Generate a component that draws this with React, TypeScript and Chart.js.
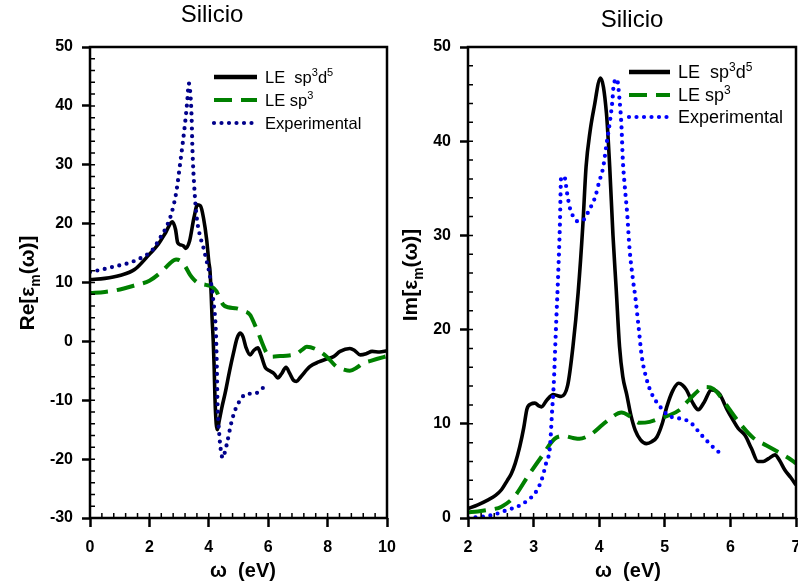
import React, { useEffect, useRef } from "react";
import { Chart, registerables } from "chart.js";

Chart.register(...registerables);

const FONT = '"Liberation Sans", Arial, Helvetica, sans-serif';

// ---------------- Left panel: Re[eps_m(omega)] ----------------
const reSp3d5X = [0, 0.5, 1.0, 1.5, 2.0, 2.3, 2.55, 2.77, 2.88, 2.95, 3.05, 3.15, 3.22, 3.35, 3.5, 3.62, 3.72, 3.82, 3.93, 4.0, 4.04, 4.08, 4.11, 4.15, 4.18, 4.21, 4.25, 4.29, 4.35, 4.45, 4.55, 4.7, 4.83, 4.95, 5.05, 5.15, 5.25, 5.39, 5.52, 5.65, 5.75, 5.9, 6.05, 6.2, 6.32, 6.45, 6.6, 6.72, 6.85, 6.95, 7.1, 7.4, 7.7, 7.97, 8.2, 8.42, 8.75, 8.9, 9.1, 9.3, 9.5, 9.75, 10];
const reSp3d5Y = [10.5, 10.7, 11.2, 12.2, 14.8, 16.5, 18.5, 20.3, 19.0, 16.8, 16.4, 16.2, 15.8, 17.0, 21.0, 23.2, 23.0, 21.0, 17.2, 13.5, 12.0, 8.0, 4.0, 0.0, -4.3, -10.0, -14.0, -15.0, -13.5, -11.0, -8.8, -5.0, -2.0, 0.5, 1.4, 0.8, -1.0, -2.3, -1.5, -1.1, -2.2, -4.4, -5.0, -5.5, -6.2, -5.5, -4.4, -5.4, -6.6, -6.8, -6.0, -4.3, -3.5, -3.0, -2.6, -1.7, -1.2, -1.5, -2.3, -2.1, -1.7, -1.8, -1.6];

const reSp3X = [0, 0.5, 0.9, 1.5, 2.0, 2.4, 2.7, 2.9, 3.05, 3.2, 3.37, 3.5, 3.65, 3.9, 4.1, 4.26, 4.38, 4.49, 4.65, 4.94, 5.15, 5.39, 5.55, 5.67, 5.8, 5.95, 6.1, 6.4, 6.7, 6.96, 7.15, 7.3, 7.63, 7.97, 8.3, 8.55, 8.75, 9.0, 9.2, 9.45, 9.65, 10];
const reSp3Y = [8.2, 8.4, 8.7, 9.5, 10.3, 11.8, 13.3, 13.9, 13.7, 12.8, 11.3, 10.5, 9.9, 9.6, 9.3, 8.5, 7.2, 6.2, 5.8, 5.6, 5.2, 4.5, 2.8, 1.4, -0.3, -2.0, -2.6, -2.5, -2.4, -2.1, -1.4, -0.9, -1.4, -2.6, -4.3, -4.8, -5.0, -4.4, -3.7, -3.3, -3.0, -2.5];

const reExpX = [0, 0.4, 0.8, 1.3, 1.8, 2.1, 2.35, 2.55, 2.73, 2.9, 3.05, 3.2, 3.27, 3.33, 3.38, 3.42, 3.45, 3.51, 3.59, 3.7, 3.81, 3.9, 4.03, 4.15, 4.24, 4.27, 4.29, 4.35, 4.42, 4.47, 4.52, 4.6, 4.77, 4.9, 5.03, 5.27, 5.5, 5.67, 5.9];
const reExpY = [11.8, 12.2, 12.7, 13.3, 14.4, 15.5, 17.5, 19.2, 21.5, 25.2, 30.8, 37.0, 40.5, 43.8, 42.0, 38.2, 32.5, 26.3, 21.2, 18.0, 16.1, 14.2, 11.3, 7.0, 1.4, -4.3, -9.9, -15.6, -19.0, -19.8, -19.2, -17.6, -13.6, -11.5, -10.2, -8.9, -8.9, -8.6, -7.5];

// ---------------- Right panel: Im[eps_m(omega)] ----------------
const imSp3d5X = [2.0, 2.15, 2.3, 2.42, 2.51, 2.6, 2.66, 2.72, 2.79, 2.85, 2.9, 2.96, 3.02, 3.08, 3.12, 3.2, 3.3, 3.36, 3.42, 3.52, 3.6, 3.68, 3.75, 3.8, 3.86, 3.92, 4.02, 4.11, 4.16, 4.21, 4.26, 4.31, 4.36, 4.42, 4.48, 4.55, 4.63, 4.72, 4.8, 4.88, 4.96, 5.03, 5.12, 5.21, 5.27, 5.33, 5.42, 5.51, 5.6, 5.71, 5.78, 5.84, 5.95, 6.04, 6.12, 6.22, 6.32, 6.42, 6.5, 6.58, 6.68, 6.75, 6.83, 6.92, 7.0];
const imSp3d5Y = [1.0, 1.4, 1.9, 2.4, 3.0, 4.0, 4.7, 5.8, 7.6, 9.6, 11.6, 12.1, 12.2, 11.9, 11.8, 12.5, 13.1, 13.0, 12.9, 14.1, 18.2, 24.0, 31.0, 37.3, 41.0, 43.5, 46.7, 43.0, 37.3, 30.0, 24.2, 18.2, 15.0, 13.1, 11.0, 9.3, 8.3, 7.9, 8.1, 8.6, 10.0, 11.8, 13.5, 14.3, 14.1, 13.6, 12.3, 11.5, 12.3, 13.6, 13.5, 13.1, 11.5, 10.4, 9.5, 8.8, 7.4, 6.0, 6.0, 6.3, 6.7, 6.1, 5.1, 4.3, 3.5];

const imSp3X = [2.0, 2.15, 2.3, 2.51, 2.71, 2.91, 3.12, 3.32, 3.47, 3.6, 3.7, 3.8, 3.9, 4.05, 4.19, 4.34, 4.47, 4.62, 4.77, 4.9, 5.03, 5.23, 5.35, 5.46, 5.61, 5.74, 5.87, 5.99, 6.15, 6.35, 6.55, 6.73, 6.88, 7.0];
const imSp3Y = [0.6, 0.7, 0.85, 1.2, 2.3, 4.4, 6.5, 8.4, 8.7, 8.5, 8.4, 8.6, 9.0, 9.9, 10.7, 11.2, 10.8, 10.1, 10.2, 10.5, 10.8, 11.5, 12.4, 13.2, 13.9, 13.7, 12.7, 11.5, 10.0, 8.5, 7.7, 7.0, 6.4, 5.8];

const imExpX = [2.0, 2.1, 2.36, 2.58, 2.81, 2.93, 3.02, 3.12, 3.19, 3.25, 3.28, 3.31, 3.33, 3.35, 3.37, 3.4, 3.42, 3.47, 3.51, 3.55, 3.59, 3.67, 3.77, 3.84, 3.94, 4.0, 4.06, 4.11, 4.16, 4.2, 4.22, 4.27, 4.31, 4.34, 4.36, 4.39, 4.43, 4.46, 4.52, 4.55, 4.6, 4.65, 4.72, 4.8, 4.93, 5.05, 5.26, 5.38, 5.56, 5.77, 5.88];
const imExpY = [0.0, 0.07, 0.3, 0.8, 1.4, 2.0, 2.6, 4.0, 5.8, 7.6, 11.1, 14.6, 18.2, 21.7, 25.0, 30.9, 36.2, 36.2, 34.5, 33.0, 32.2, 31.5, 31.7, 32.6, 34.1, 35.7, 37.2, 39.6, 41.9, 44.2, 45.9, 46.6, 44.4, 41.5, 38.0, 35.2, 32.0, 28.8, 25.0, 23.5, 20.3, 17.1, 14.8, 13.2, 11.8, 10.9, 10.5, 10.2, 8.8, 7.3, 6.7];

// axis ranges / ticks
const reXRange = [0, 10, 2, 0.4]; // min, max, major step, minor step
const reYRange = [-30, 50, 10, 2];
const imXRange = [2, 7, 1, 0.2];
const imYRange = [0, 50, 10, 2];

// texts
type Part = { t: string; s?: "sup" | "sub" };
const panelTitle = "Silicio";
const xTitle = "ω  (eV)";
const reYTitle: Part[] = [{ t: "Re[ε" }, { t: "m", s: "sub" }, { t: "(ω)]" }];
const imYTitle: Part[] = [{ t: "Im[ε" }, { t: "m", s: "sub" }, { t: "(ω)]" }];
const legendLabels: Part[][] = [
  [{ t: "LE  sp" }, { t: "3", s: "sup" }, { t: "d" }, { t: "5", s: "sup" }],
  [{ t: "LE sp" }, { t: "3", s: "sup" }],
  [{ t: "Experimental" }],
];

const BLACK = "#000000";
const GREEN = "#008000";

type Style = { color: string; width: number; dash: number[]; cap: CanvasLineCap };
const solidStyle: Style = { color: BLACK, width: 3.6, dash: [], cap: "butt" };
const dashStyle: Style = { color: GREEN, width: 4, dash: [18, 9], cap: "butt" };

function richWidth(ctx: CanvasRenderingContext2D, parts: Part[], size: number, bold: boolean) {
  let w = 0;
  for (const p of parts) {
    const fs = p.s ? Math.round(size * 0.65) : size;
    ctx.font = `${bold ? "bold " : ""}${fs}px ${FONT}`;
    w += ctx.measureText(p.t).width;
  }
  return w;
}

function drawRich(ctx: CanvasRenderingContext2D, parts: Part[], x: number, y: number, size: number, bold: boolean) {
  let cx = x;
  ctx.textBaseline = "alphabetic";
  ctx.textAlign = "left";
  for (const p of parts) {
    const fs = p.s ? Math.round(size * 0.65) : size;
    ctx.font = `${bold ? "bold " : ""}${fs}px ${FONT}`;
    const dy = p.s === "sup" ? -size * 0.42 : p.s === "sub" ? size * 0.28 : 0;
    ctx.fillText(p.t, cx, y + dy);
    cx += ctx.measureText(p.t).width;
  }
}

interface PanelSpec {
  canvasW: number;
  viewW: number;
  pageLeft: number;
  yAxisW: number;
  padRight: number;
  xr: number[];
  yr: number[];
  series: { xs: number[]; ys: number[]; style: Style }[];
  yTitle: Part[];
  yTitleX: number;
  yTitleY: number;
  xTitleX: number;
  titleX: number;
  titleY: number;
  legX1: number;
  legX2: number;
  legTextX: number;
  legYs: number[];
  legFont: number;
}

function makeDecor(p: PanelSpec) {
  return {
    id: "decor",
    afterDraw(chart: any) {
      const ctx: CanvasRenderingContext2D = chart.ctx;
      const a = chart.chartArea;
      const xs = chart.scales.x;
      const ys = chart.scales.y;
      ctx.save();
      ctx.strokeStyle = BLACK;
      ctx.fillStyle = BLACK;
      // minor ticks (inside)
      ctx.lineWidth = 1.5;
      ctx.beginPath();
      const nx = Math.round((p.xr[1] - p.xr[0]) / p.xr[3]);
      for (let i = 1; i < nx; i++) {
        const px = xs.getPixelForValue(p.xr[0] + i * p.xr[3]);
        ctx.moveTo(px, a.bottom);
        ctx.lineTo(px, a.bottom - 5);
      }
      const ny = Math.round((p.yr[1] - p.yr[0]) / p.yr[3]);
      for (let i = 1; i < ny; i++) {
        const py = ys.getPixelForValue(p.yr[0] + i * p.yr[3]);
        ctx.moveTo(a.left, py);
        ctx.lineTo(a.left + 5, py);
      }
      ctx.stroke();
      // frame
      ctx.lineWidth = 2.5;
      ctx.strokeRect(a.left, a.top, a.right - a.left, a.bottom - a.top);
      // title
      ctx.font = `24px ${FONT}`;
      ctx.textAlign = "center";
      ctx.textBaseline = "middle";
      ctx.fillText(panelTitle, p.titleX, p.titleY);
      // x title
      ctx.font = `bold 20px ${FONT}`;
      ctx.fillText(xTitle, p.xTitleX, 571);
      // y title
      const w = richWidth(ctx, p.yTitle, 21, true);
      ctx.save();
      ctx.translate(p.yTitleX, p.yTitleY);
      ctx.rotate(-Math.PI / 2);
      drawRich(ctx, p.yTitle, -w / 2, 0, 21, true);
      ctx.restore();
      // legend
      const styles: Style[] = [p.series[2].style, p.series[1].style, p.series[0].style];
      for (let i = 0; i < 3; i++) {
        const s = styles[i];
        const y = p.legYs[i];
        ctx.save();
        ctx.strokeStyle = s.color;
        ctx.lineWidth = i === 0 ? 4.5 : s.width;
        ctx.lineCap = s.cap;
        ctx.setLineDash(s.dash);
        ctx.beginPath();
        ctx.moveTo(p.legX1, y);
        ctx.lineTo(p.legX2, y);
        ctx.stroke();
        ctx.restore();
        ctx.fillStyle = BLACK;
        drawRich(ctx, legendLabels[i], p.legTextX, y + p.legFont * 0.36, p.legFont, false);
      }
      ctx.restore();
    },
  };
}

function Panel({ spec }: { spec: PanelSpec }) {
  const ref = useRef<HTMLCanvasElement | null>(null);
  useEffect(() => {
    const canvas = ref.current!;
    const datasets = spec.series.map((s) => ({
      data: s.xs.map((x, i) => ({ x, y: s.ys[i] })),
      borderColor: s.style.color,
      backgroundColor: s.style.color,
      borderWidth: s.style.width,
      borderDash: s.style.dash,
      borderCapStyle: s.style.cap,
      borderJoinStyle: "round" as const,
      pointRadius: 0,
      fill: false,
      cubicInterpolationMode: "monotone" as const,
    }));
    const tickFont = { family: FONT, size: 16, weight: "bold" as const };
    const chart = new Chart(canvas, {
      type: "line",
      data: { datasets },
      options: {
        animation: false,
        responsive: false,
        devicePixelRatio: 1,
        layout: { padding: { left: 0, right: spec.padRight, top: 47, bottom: 0 } },
        plugins: { legend: { display: false }, tooltip: { enabled: false }, title: { display: false } },
        scales: {
          x: {
            type: "linear",
            min: spec.xr[0],
            max: spec.xr[1],
            afterFit: (sc: any) => {
              sc.height = 68;
              sc.paddingLeft = 0;
              sc.paddingRight = 0;
            },
            ticks: { stepSize: spec.xr[2], color: BLACK, font: tickFont, padding: 11, maxRotation: 0 },
            grid: { display: true, drawOnChartArea: false, drawTicks: true, tickLength: 9, tickWidth: 2.5, tickColor: BLACK },
            border: { display: false },
          },
          y: {
            type: "linear",
            min: spec.yr[0],
            max: spec.yr[1],
            afterFit: (sc: any) => {
              sc.width = spec.yAxisW;
              sc.paddingTop = 0;
              sc.paddingBottom = 0;
            },
            ticks: { stepSize: spec.yr[2], color: BLACK, font: tickFont, padding: 9 },
            grid: { display: true, drawOnChartArea: false, drawTicks: true, tickLength: 8, tickWidth: 2.5, tickColor: BLACK },
            border: { display: false },
          },
        },
      },
      plugins: [makeDecor(spec)],
    } as any);
    return () => chart.destroy();
  }, [spec]);
  return (
    <div style={{ position: "absolute", left: spec.pageLeft, top: 0, width: spec.viewW, height: 586, overflow: "hidden" }}>
      <canvas ref={ref} width={spec.canvasW} height={586} style={{ width: spec.canvasW, height: 586, display: "block" }} />
    </div>
  );
}

const leftSpec: PanelSpec = {
  canvasW: 400,
  viewW: 400,
  pageLeft: 0,
  yAxisW: 90,
  padRight: 13,
  xr: reXRange,
  yr: reYRange,
  series: [
    { xs: reExpX, ys: reExpY, style: { color: "#00008B", width: 4.2, dash: [0, 7.5], cap: "round" } },
    { xs: reSp3X, ys: reSp3Y, style: dashStyle },
    { xs: reSp3d5X, ys: reSp3d5Y, style: solidStyle },
  ],
  yTitle: reYTitle,
  yTitleX: 34,
  yTitleY: 283,
  xTitleX: 243,
  titleX: 212,
  titleY: 15,
  legX1: 214,
  legX2: 257,
  legTextX: 265,
  legYs: [77, 100, 123],
  legFont: 16.5,
};

const rightSpec: PanelSpec = {
  canvasW: 410,
  viewW: 398,
  pageLeft: 400,
  yAxisW: 68,
  padRight: 14,
  xr: imXRange,
  yr: imYRange,
  series: [
    { xs: imExpX, ys: imExpY, style: { color: "#0000FF", width: 4.2, dash: [0, 7.5], cap: "round" } },
    { xs: imSp3X, ys: imSp3Y, style: dashStyle },
    { xs: imSp3d5X, ys: imSp3d5Y, style: solidStyle },
  ],
  yTitle: imYTitle,
  yTitleX: 17,
  yTitleY: 275,
  xTitleX: 228,
  titleX: 232,
  titleY: 20,
  legX1: 229,
  legX2: 270,
  legTextX: 278,
  legYs: [72, 95, 117],
  legFont: 18,
};

export default function App() {
  return (
    <div style={{ position: "absolute", left: 0, top: 0, width: 798, height: 586, overflow: "hidden", background: "#fff" }}>
      <Panel spec={leftSpec} />
      <Panel spec={rightSpec} />
    </div>
  );
}
